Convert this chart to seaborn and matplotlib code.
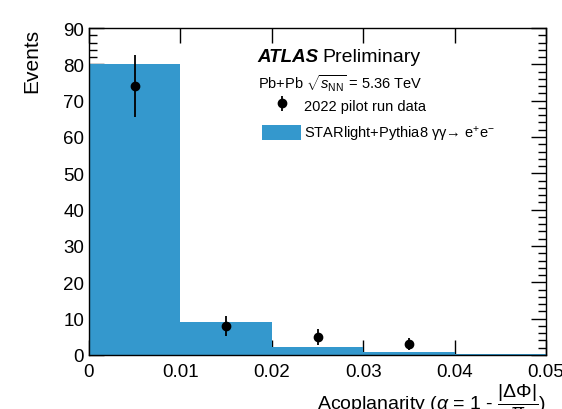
import numpy as np
import pandas as pd
import matplotlib
matplotlib.use("Agg")
import matplotlib.pyplot as plt
import seaborn as sns
from matplotlib.patches import Patch

# Data
bin_edges = [0.0, 0.01, 0.02, 0.03, 0.04, 0.05]
mc_values = [80.0, 9.0, 2.1, 0.7, 0.15]
data_x = [0.005, 0.015, 0.025, 0.035]
data_y = [74.0, 8.0, 5.0, 3.0]
data_err = [8.6, 2.8, 2.2, 1.7]
x_tick_labels = ["0", "0.01", "0.02", "0.03", "0.04", "0.05"]

sns.set_style("ticks")
plt.rcParams['font.family'] = ['Liberation Sans', 'DejaVu Sans']
plt.rcParams['mathtext.fontset'] = 'custom'
plt.rcParams['mathtext.rm'] = 'Liberation Sans'
plt.rcParams['mathtext.it'] = 'Liberation Sans:italic'
plt.rcParams['mathtext.bf'] = 'Liberation Sans:bold'
for k in ['text.color', 'axes.labelcolor', 'xtick.color', 'ytick.color']:
    plt.rcParams[k] = 'black'

blue = "#3498CD"

fig = plt.figure(figsize=(5.62, 4.10), dpi=100)
ax = fig.add_axes([89/562, 54/410, 457/562, 327/410])

centers = [(bin_edges[i] + bin_edges[i+1]) / 2 for i in range(len(mc_values))]
df = pd.DataFrame({"x": centers, "w": mc_values})
sns.histplot(data=df, x="x", weights="w", bins=bin_edges, ax=ax,
             color=blue, alpha=1.0, linewidth=0, element="bars")
ax.errorbar(data_x, data_y, yerr=data_err, fmt='o', color='black',
            markersize=6, elinewidth=1.3, capsize=0, zorder=5)

ax.set_xlim(0, 0.05)
ax.set_ylim(0, 90)
ax.set_xticks([0, 0.01, 0.02, 0.03, 0.04, 0.05])
ax.set_xticklabels(x_tick_labels)
ax.set_yticks(np.arange(0, 91, 10))
ax.set_yticks(np.arange(0, 91, 2), minor=True)
ax.tick_params(axis='both', which='both', direction='in', top=True, right=True,
               labelsize=13.5, width=1, colors='black')
ax.tick_params(axis='both', which='major', length=11)
ax.tick_params(axis='y', which='minor', length=6)
ax.tick_params(axis='x', which='major', pad=6)
for s in ax.spines.values():
    s.set_linewidth(1)
    s.set_color('black')

ax.set_ylabel("Events", fontsize=15, loc='top', labelpad=16)
ax.set_xlabel(r"Acoplanarity ($\alpha$ = 1 - $\dfrac{|\Delta\Phi|}{\pi}$)",
              fontsize=14, loc='right', labelpad=1)

# Annotations
fig.text(257/562, 1 - 62/410, "ATLAS", fontsize=13.5, fontweight='bold', fontstyle='italic',
         ha='left', va='baseline')
fig.text(322/562, 1 - 62/410, "Preliminary", fontsize=14, ha='left', va='baseline')
fig.text(258/562, 1 - 89/410, r"Pb+Pb $\sqrt{s_{\mathrm{NN}}}$ = 5.36 TeV", fontsize=10.5,
         ha='left', va='baseline')

eb = ax.errorbar([], [], yerr=[], fmt='o', color='black', markersize=6, elinewidth=1.3)
patch = Patch(facecolor=blue, edgecolor='none')
leg = ax.legend([eb, patch],
                ["2022 pilot run data", r"STARlight+Pythia8 γγ→ e$^{+}$e$^{-}$"],
                loc='upper left', bbox_to_anchor=(262/562, 1 - 98/410),
                bbox_transform=fig.transFigure, frameon=False, fontsize=10.5,
                handlelength=2.7, handleheight=1.3, handletextpad=0.2,
                labelspacing=0.75, borderpad=0, borderaxespad=0)

fig.savefig("out.png", dpi=100)
